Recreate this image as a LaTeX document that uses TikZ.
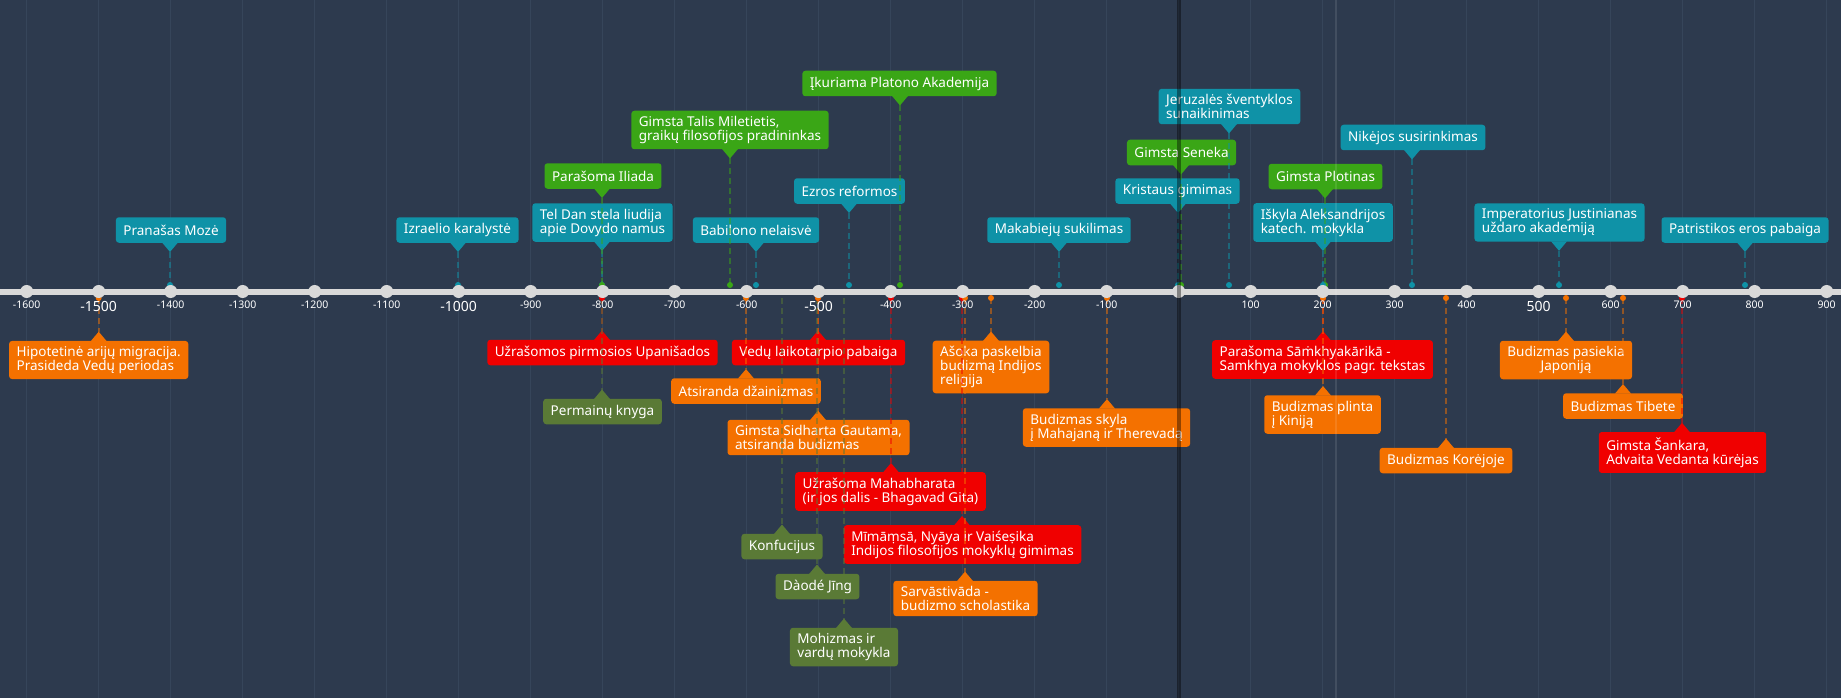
\documentclass[tikz,border=0pt]{standalone}
\usepackage{fontspec}
\setmainfont{Noto Sans}
\usetikzlibrary{calc}
\definecolor{bgc}{HTML}{2D3A4E}
\definecolor{gridc}{HTML}{36455A}
\definecolor{cteal}{HTML}{0F92A7}
\definecolor{cgreen}{HTML}{3AA616}
\definecolor{corange}{HTML}{F47100}
\definecolor{cred}{HTML}{F00000}
\definecolor{colive}{HTML}{5A7A36}
\definecolor{axisc}{HTML}{D9D9D9}
\newcommand\boxfont{\fontsize{13.5}{14}\selectfont}
\pgfdeclarelayer{bglayer}
\pgfdeclarelayer{boxes}
\pgfdeclarelayer{lines}
\pgfsetlayers{bglayer,boxes,lines,main}
\tikzset{
  evbox/.style={rounded corners=3pt, text=white, font=\boxfont, inner xsep=7.5pt, inner ysep=5.5pt, minimum height=25.5pt, align=left},
  evline/.style={line width=2pt, dash pattern=on 6pt off 4pt, draw opacity=0.5},
  yrlbl/.style={text=white, font=\fontsize{10.5}{11}\selectfont, inner sep=0pt},
  yrbold/.style={text=white, font=\fontsize{14}{15}\selectfont\bfseries, inner sep=0pt},
  tickdot/.style={fill=axisc},
}
% event above the axis
\newcommand{\evU}[7][]{%
  \begin{pgfonlayer}{boxes}
  \node[evbox, fill=#3, #1] (#2) at (#5,#6) {#7};
  \path (#4,0 |- #2.south) coordinate (#2b);
  \fill[#3] ([xshift=-8pt,yshift=0.5pt]#2b) -- ([yshift=-9pt]#2b) coordinate (#2tip) -- ([xshift=8pt,yshift=0.5pt]#2b) -- cycle;
  \end{pgfonlayer}
  \coordinate (#2dot) at (#4,284.5);
  \begin{pgfonlayer}{lines}
  \draw[evline, draw=#3] (#2tip) -- (#2dot);
  \end{pgfonlayer}
  \fill[#3] (#2dot) circle (3);
}
% event below the axis, no dot
\newcommand{\evDn}[7][]{%
  \begin{pgfonlayer}{boxes}
  \node[evbox, fill=#3, #1] (#2) at (#5,#6) {#7};
  \path (#4,0 |- #2.north) coordinate (#2b);
  \fill[#3] ([xshift=-8pt,yshift=-0.5pt]#2b) -- ([yshift=9pt]#2b) coordinate (#2tip) -- ([xshift=8pt,yshift=-0.5pt]#2b) -- cycle;
  \end{pgfonlayer}
  \coordinate (#2dot) at (#4,297.5);
  \begin{pgfonlayer}{lines}
  \draw[evline, draw=#3] (#2dot) -- (#2tip);
  \end{pgfonlayer}
}
\newcommand{\evD}[7][]{\evDn[#1]{#2}{#3}{#4}{#5}{#6}{#7}\fill[#3] (#2dot) circle (3);}

\begin{document}
\begin{tikzpicture}[x=1pt,y=-1pt]
\begin{pgfonlayer}{bglayer}
\fill[bgc] (0,0) rectangle (1841,697);
\foreach \yr in {-1600,-1500,...,900} {
  \pgfmathsetmacro\xx{26.7+(\yr+1600)*0.72}
  \draw[gridc, line width=1pt] (\xx,0) -- (\xx,697);
}
\end{pgfonlayer}
\useasboundingbox (0,0) rectangle (1841,697);

% ---- above the axis ----
\evU{moze}{cteal}{170}{171}{229.5}{Pranašas Mozė}
\evU{izrael}{cteal}{458}{457.5}{229.5}{Izraelio karalystė}
\evU{teldan}{cteal}{602}{602.5}{222}{Tel Dan stela liudija\\apie Dovydo namus}
\evU{iliada}{cgreen}{602}{603}{175.5}{Parašoma Iliada}
\evU{babilon}{cteal}{756}{756}{229.5}{Babilono nelaisvė}
\evU{talis}{cgreen}{730}{730}{129.5}{Gimsta Talis Miletietis,\\graikų filosofijos pradininkas}
\evU{ezra}{cteal}{849}{849.5}{190.5}{Ezros reformos}
\evU{platon}{cgreen}{900}{899.5}{83}{Įkuriama Platono Akademija}
\evU{makab}{cteal}{1059}{1059}{229.5}{Makabiejų sukilimas}
\evU{kristus}{cteal}{1178}{1177.5}{190.5}{Kristaus gimimas}
\evU{seneka}{cgreen}{1181}{1181.5}{152}{Gimsta Seneka}
\evU{jeruzale}{cteal}{1229}{1229.5}{106}{Jeruzalės šventyklos\\sunaikinimas}
\evU{plotinas}{cgreen}{1325}{1325.5}{176}{Gimsta Plotinas}
\evU{aleks}{cteal}{1323}{1323}{222}{Iškyla Aleksandrijos\\katech. mokykla}
\evU{nikeja}{cteal}{1412}{1413}{137}{Nikėjos susirinkimas}
\evU{justin}{cteal}{1559}{1559.5}{222}{Imperatorius Justinianas\\uždaro akademiją}
\evU{patrist}{cteal}{1745}{1745}{229.5}{Patristikos eros pabaiga}

% ---- below the axis ----
\evD{arij}{corange}{98.7}{98.7}{359.5}{Hipotetinė arijų migracija.\\Prasideda Vedų periodas}
\evD{upanis}{cred}{602}{602.5}{352}{Užrašomos pirmosios Upanišados}
\evDn{permain}{colive}{602}{602.5}{411}{Permainų knyga}
\evD{vedu}{cred}{818}{818.5}{352}{Vedų laikotarpio pabaiga}
\evD{dzain}{corange}{746}{746}{390.5}{Atsiranda džainizmas}
\evD{sidharta}{corange}{818}{818.5}{437}{Gimsta Sidharta Gautama,\\atsiranda budizmas}
\evD{mahabh}{cred}{891}{890.5}{491}{Užrašoma Mahabharata\\(ir jos dalis - Bhagavad Gita)}
\evDn{konfuc}{colive}{782}{782}{546}{Konfucijus}
\evDn{daode}{colive}{817}{817.5}{586}{Dàodé Jīng}
\evDn{mohiz}{colive}{844}{844}{646.5}{Mohizmas ir\\vardų mokykla}
\evD{mimamsa}{cred}{962}{962.5}{544}{Mīmāṃsā, Nyāya ir Vaiśeṣika\\Indijos filosofijos mokyklų gimimas}
\evD{sarvast}{corange}{965}{965.5}{598}{Sarvāstivāda -\\budizmo scholastika}
\evD{asoka}{corange}{991}{991}{366.5}{Ašoka paskelbia\\budizmą Indijos\\religija}
\evD{skyla}{corange}{1107}{1106.5}{427}{Budizmas skyla\\į Mahajaną ir Therevadą}
\evD{samkhya}{cred}{1323}{1322.5}{359}{Parašoma Sāṁkhyakārikā -\\Samkhya mokyklos pagr. tekstas}
\evD{plinta}{corange}{1323}{1322.5}{414}{Budizmas plinta\\į Kiniją}
\evD{koreja}{corange}{1446}{1446}{460}{Budizmas Korėjoje}
\evD[align=center]{japonija}{corange}{1566}{1566}{359.5}{Budizmas pasiekia\\Japoniją}
\evD{tibet}{corange}{1623}{1623}{405.5}{Budizmas Tibete}
\evD{sankara}{cred}{1682}{1682.5}{452}{Gimsta Šankara,\\Advaita Vedanta kūrėjas}

% ---- axis ----
\draw[axisc, line width=6pt] (0,291) -- (1841,291);
\foreach \yr in {-1600,-1500,...,900} {
  \pgfmathsetmacro\xx{26.7+(\yr+1600)*0.72}
  \fill[tickdot] (\xx,291) circle (6.5);
}
\foreach \yr [count=\i] in {-1600,-1400,-1300,-1200,-1100,-900,-800,-700,-600,-400,-300,-200,-100,100,200,300,400,600,700,800,900} {
  \pgfmathsetmacro\xx{26.7+(\yr+1600)*0.72}
  \node[yrlbl] (yl\i) at (\xx,304) {\yr};
}
\foreach \yr [count=\i] in {-1500,-1000,-500,500} {
  \pgfmathsetmacro\xx{26.7+(\yr+1600)*0.72}
  \node[yrbold] (yb\i) at (\xx,306) {\yr};
}
% year zero line and light marker line
\draw[black, opacity=0.4, line width=4pt] (1178.7,0) -- (1178.7,697);
\draw[white, opacity=0.1, line width=2pt] (1336,0) -- (1336,697);
\end{tikzpicture}
\end{document}
